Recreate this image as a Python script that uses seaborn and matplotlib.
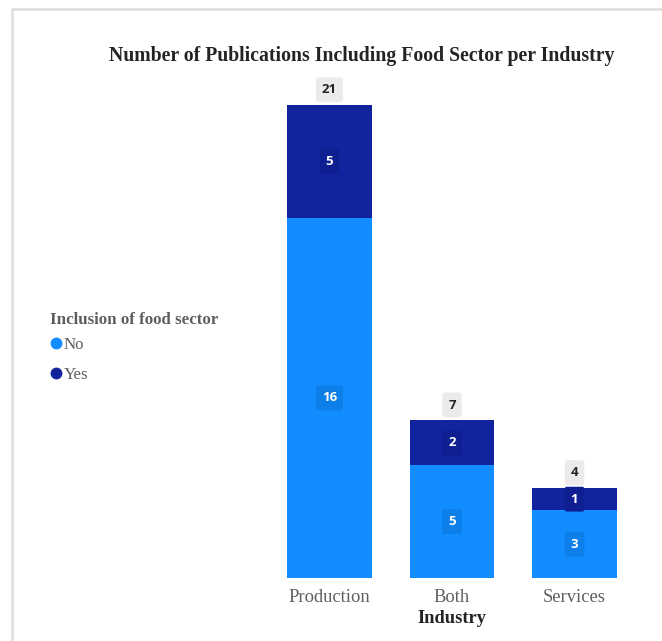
import matplotlib
matplotlib.use("Agg")
import matplotlib.pyplot as plt
from matplotlib.lines import Line2D
import seaborn as sns
import pandas as pd

# Publications per industry, split by whether the food sector is included
industries = ["Production", "Both", "Services"]
no_food = [16, 5, 3]
yes_food = [5, 2, 1]
totals = [n + y for n, y in zip(no_food, yes_food)]

legend_title = "Inclusion of food sector"
legend_labels = ["No", "Yes"]
title = "Number of Publications Including Food Sector per Industry"
x_title = "Industry"

COLOR_NO = "#118DFF"
COLOR_YES = "#12239E"
BOX_NO = "#0C7FE8"
BOX_YES = "#0F1F92"
GRAY_TEXT = "#605E5C"
DARK_TEXT = "#252423"

sns.set_theme(style="white")
plt.rcParams["font.family"] = ["Liberation Serif", "DejaVu Serif"]

df = pd.DataFrame({"Industry": industries, "No": no_food, "Yes": yes_food, "Total": totals})

fig = plt.figure(figsize=(6.62, 6.41), dpi=100)
ax = fig.add_axes([0.4052, 0.0983, 0.5551, 0.7379])

# Stacked bars: full totals in the "Yes" colour, "No" share drawn over the base
sns.barplot(data=df, x="Industry", y="Total", color=COLOR_YES, width=0.69,
            saturation=1, linewidth=0, ax=ax, zorder=2)
sns.barplot(data=df, x="Industry", y="No", color=COLOR_NO, width=0.69,
            saturation=1, linewidth=0, ax=ax, zorder=3)

ax.set_xlim(-0.5, 2.5)
ax.set_ylim(0, 21)
ax.set_yticks([])
ax.set_ylabel("")
for s in ax.spines.values():
    s.set_visible(False)

ax.tick_params(axis="x", length=0, pad=8, labelsize=13.3, labelcolor=GRAY_TEXT)
ax.set_xlabel(x_title, fontsize=13.3, fontweight="bold", color=DARK_TEXT, labelpad=3)

label_font = dict(family=["Open Sans", "DejaVu Sans"], fontweight="bold", fontsize=9.5)

for i, (n, y, t) in enumerate(zip(no_food, yes_food, totals)):
    ax.text(i, n / 2, str(n), ha="center", va="center", color="white", zorder=5,
            bbox=dict(boxstyle="round,pad=0.45,rounding_size=0.15", fc=BOX_NO, ec="none"),
            **label_font)
    ax.text(i, n + y / 2, str(y), ha="center", va="center", color="white", zorder=5,
            bbox=dict(boxstyle="round,pad=0.45,rounding_size=0.15", fc=BOX_YES, ec="none"),
            **label_font)
    ax.annotate(str(t), xy=(i, t), xytext=(0, 11), textcoords="offset points",
                ha="center", va="center", color=DARK_TEXT, zorder=5, annotation_clip=False,
                bbox=dict(boxstyle="round,pad=0.45,rounding_size=0.25", fc="#EBEBEB", ec="none"),
                **label_font)

fig.text(0.547, 0.913, title, ha="center", va="center", fontsize=14.2,
         fontweight="bold", color=DARK_TEXT)

# Legend: bold heading plus one circle marker per category
fig.text(50 / 662, 1 - 320 / 641, legend_title, ha="left", va="center", fontsize=12.2,
         fontweight="bold", color=GRAY_TEXT)
handles = [Line2D([], [], marker="o", linestyle="none", markersize=7.5, color=c)
           for c in (COLOR_NO, COLOR_YES)]
leg = fig.legend(handles, legend_labels, loc="upper left",
                 bbox_to_anchor=(51 / 662, 1 - 337 / 641), frameon=False,
                 fontsize=12.2, handlelength=0.6, handletextpad=0.15,
                 labelspacing=0.83, borderaxespad=0, borderpad=0, labelcolor=GRAY_TEXT)

# Light frame along the top and left edge
frame = "#DDDDDD"
fig.add_artist(Line2D([12 / 662, 1], [1 - 9 / 641] * 2, color=frame, lw=1.8,
                      transform=fig.transFigure))
fig.add_artist(Line2D([12 / 662] * 2, [0, 1 - 9 / 641], color=frame, lw=1.8,
                      transform=fig.transFigure))

fig.savefig("out.png", dpi=100)
